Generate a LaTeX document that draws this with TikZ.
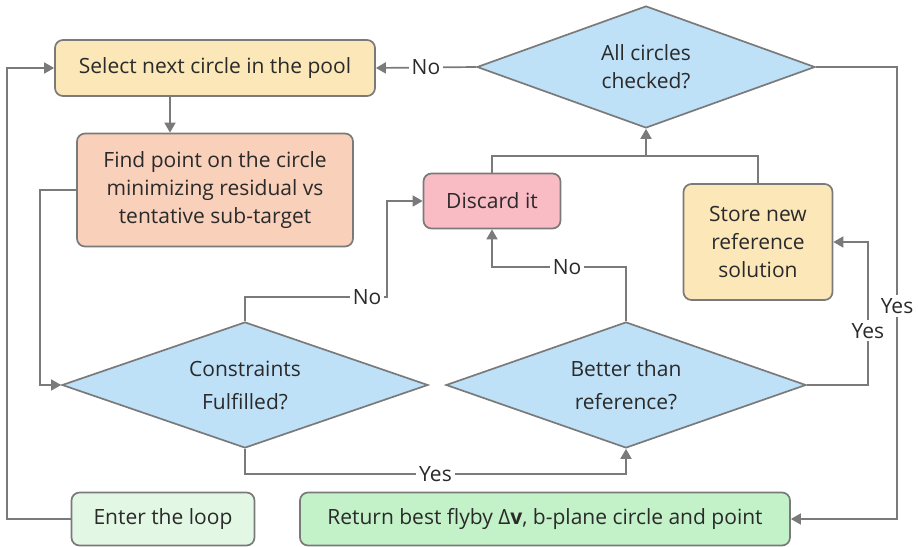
\documentclass[tikz,border=0pt]{standalone}
\usepackage{fontspec}
\setmainfont{Open Sans}
\usetikzlibrary{shapes.geometric,arrows.meta}
\definecolor{boxyellow}{HTML}{FBE7B7}
\definecolor{boxsalmon}{HTML}{F9D0BA}
\definecolor{boxpink}{HTML}{F9BBC4}
\definecolor{boxblue}{HTML}{BEE1F8}
\definecolor{boxmint}{HTML}{E3F8E4}
\definecolor{boxgreen}{HTML}{C3F2C9}
\definecolor{edgegray}{HTML}{7A7A7A}
\definecolor{textgray}{HTML}{2A2A2A}
\begin{document}
\begin{tikzpicture}[x=1pt, y=-1pt,
		every node/.style = {font=\fontsize{21}{28}\selectfont, text=textgray},
		proc/.style = {draw=edgegray, line width=1.7pt, rounded corners=8pt, align=center, inner sep=0pt},
		decide/.style = {diamond, aspect=2.9, draw=edgegray, line width=1.7pt, fill=boxblue, align=center, inner sep=0pt},
		line/.style = {draw=edgegray, line width=1.7pt},
		arr/.style = {line, -{Triangle[width=11pt, length=10pt]}},
		lbl/.style = {fill=white, inner sep=3pt}]
	\useasboundingbox (0, 0) rectangle (918, 546);
	% boxes
	\node[proc, fill=boxyellow, minimum width=320, minimum height=56] (select) at (215, 68) {Select next circle in the pool};
	\node[proc, fill=boxsalmon, minimum width=276, minimum height=113] (find) at (215, 190) {Find point on the circle\\minimizing residual vs\\tentative sub-target};
	\node[decide, minimum width=338, minimum height=122] (allchk) at (646, 67) {All circles\\checked?};
	\node[proc, fill=boxpink, minimum width=137, minimum height=55] (discard) at (492, 201) {Discard it};
	\node[proc, fill=boxyellow, minimum width=149, minimum height=116] (store) at (758, 242) {Store new\\reference\\solution};
	\node[decide, minimum width=366, minimum height=126] (cons) at (245, 385) {Constraints\\[5pt]Fulfilled?};
	\node[decide, minimum width=360, minimum height=126] (better) at (626, 385) {Better than\\[5pt]reference?};
	\node[proc, fill=boxmint, minimum width=183, minimum height=53] (enter) at (163, 519) {Enter the loop};
	\node[proc, fill=boxgreen, minimum width=490, minimum height=53] (ret) at (545, 519) {Return best flyby Δ\textbf{v}, b-plane circle and point};
	\coordinate (merge) at (646, 156);
	% connectors
	\draw[arr] ([xshift=-45pt]select.south) -- ([xshift=-45pt]find.north);
	\draw[arr] (allchk.west) -- node[lbl]{No} (select.east);
	\draw[arr] (allchk.east) -| (897, 306) node[lbl]{Yes} |- (ret.east);
	\draw[arr] (find.west) -- ++(-36, 0) |- (cons.west);
	\draw[arr] (enter.west) -- ++(-64, 0) |- (select.west);
	\draw[arr] (cons.north) |- node[lbl, pos=0.93]{No} (387, 297) |- (discard.west);
	\draw[arr] (cons.south) -- ++(0, 25) -| node[lbl, pos=0.25]{Yes} (better.south);
	\draw[arr] (better.north) -- ++(0, -54) -| node[lbl, pos=0.22]{No} (discard.south);
	\draw[arr] (better.east) -- ++(61, 0) |- node[lbl, pos=0.19]{Yes} (store.east);
	\draw[line] (discard.north) |- (merge) -| (store.north);
	\draw[arr] (merge) -- (allchk.south);
\end{tikzpicture}
\end{document}
